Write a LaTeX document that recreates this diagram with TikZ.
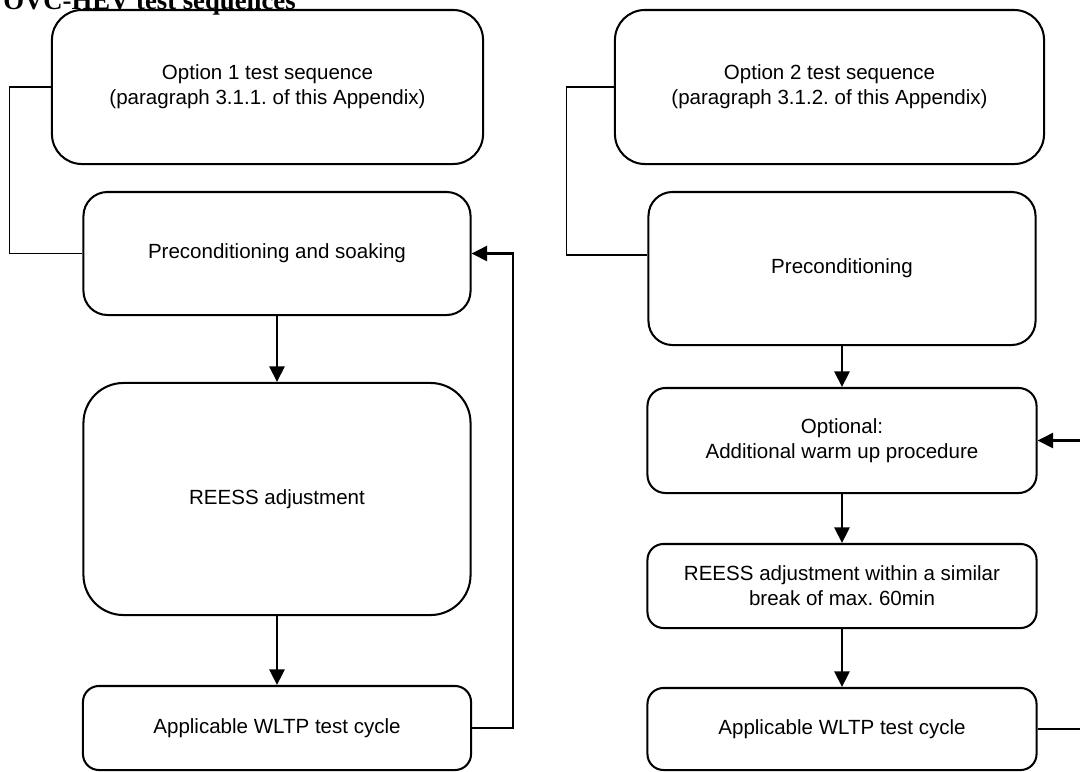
\documentclass[tikz,border=0pt]{standalone}
\usepackage{fontspec}
\setmainfont{Liberation Sans}
\newfontfamily\headfont{Liberation Serif}
\usetikzlibrary{arrows.meta, positioning, calc}
\frenchspacing

\begin{document}
\begin{tikzpicture}[x=0.025cm, y=-0.025cm,
  stage/.style={draw, line width=1.45pt, rounded corners=#1, align=center,
    font=\fontsize{14.6}{17.8}\selectfont, inner sep=0pt},
  stage/.default=0.4cm,
  flow/.style={line width=1.45pt, -{Triangle[length=3.9mm, width=3.8mm]}},
  link/.style={line width=0.8pt}]
  \useasboundingbox (0,0) rectangle (1080,771);
  \clip (0,0) rectangle (1080,771);
  % heading, cut off at the top
  \node[anchor=base west, inner sep=0pt, font=\headfont\bfseries\fontsize{19}{22}\selectfont]
    (head) at (3,9) {OVC-HEV test sequences};

  % option 1
  \node[stage=0.75cm, minimum width=10.775cm, minimum height=3.85cm] (opt1) at (267.5,87)
    {Option 1 test sequence\\(paragraph 3.1.1. of this Appendix)};
  \node[stage=0.6cm, minimum width=9.675cm, minimum height=3.075cm] (pre1) at (277,253.5)
    {Preconditioning and soaking};
  \node[stage=1cm, minimum width=9.675cm, minimum height=5.8cm] (reess1) at (277,499)
    {REESS adjustment};
  \node[stage, minimum width=9.7cm, minimum height=2.1cm] (cycle1) at (277,728)
    {Applicable WLTP test cycle};

  \draw[link] (opt1.west) -- ++(-41,0) |- (pre1.west);
  \draw[flow] (pre1) -- (reess1);
  \draw[flow] (reess1) -- (cycle1);
  \draw[flow] (cycle1.east) -- ++(41,0) |- (pre1.east);

  % option 2
  \node[stage=0.75cm, minimum width=10.725cm, minimum height=3.85cm] (opt2) at (829.5,87)
    {Option 2 test sequence\\(paragraph 3.1.2. of this Appendix)};
  \node[stage=0.6cm, minimum width=9.675cm, minimum height=3.825cm] (pre2) at (842,268.5)
    {Preconditioning};
  \node[stage=0.45cm, minimum width=9.725cm, minimum height=2.625cm] (warm2) at (842,440.5)
    {Optional:\\Additional warm up procedure};
  \node[stage, minimum width=9.725cm, minimum height=2.1cm] (reess2) at (842,586)
    {REESS adjustment within a similar\\break of max. 60min};
  \node[stage, minimum width=9.725cm, minimum height=2.05cm] (cycle2) at (842,729)
    {Applicable WLTP test cycle};

  \coordinate (join2) at (pre2.west |- 0,255);
  \draw[link] (opt2.west) -- ++(-47,0) |- (join2);
  \draw[flow] (pre2) -- (warm2);
  \draw[flow] (warm2) -- (reess2);
  \draw[flow] (reess2) -- (cycle2);
  \draw[flow] (cycle2.east) -- ++(45,0) |- (warm2.east);
\end{tikzpicture}
\end{document}
